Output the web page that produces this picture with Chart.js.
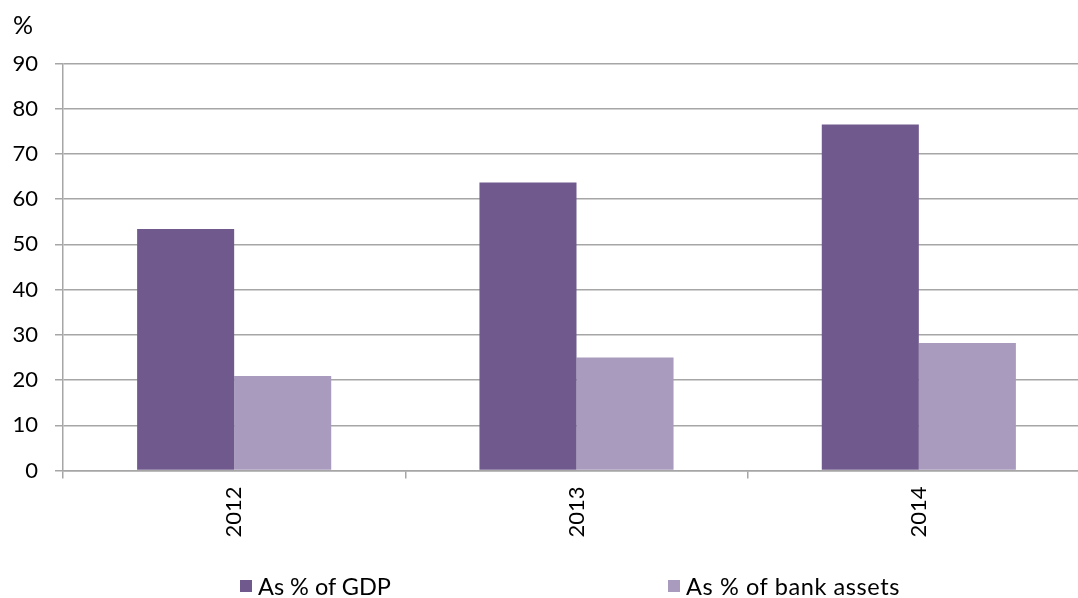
<!DOCTYPE html>
<html>
<head>
<meta charset="utf-8">
<script src="https://cdn.jsdelivr.net/npm/chart.js@4/dist/chart.umd.min.js"></script>
<style>
  html, body { margin: 0; padding: 0; background: #fff; overflow: hidden; width: 1078px; height: 598px; }
  #wrap { position: absolute; left: 0; top: 0; width: 1090px; height: 598px; }
  #unit { position: absolute; left: 13px; top: 9px; font: 25px Lato, sans-serif; color: #000; line-height: 30px; }
  .leg { position: absolute; top: 571px; height: 30px; font: 23.5px Lato, sans-serif; color: #000; display: flex; align-items: center; }
  .leg span.box { display: inline-block; width: 12px; height: 12px; margin-right: 6px; }
</style>
</head>
<body>
<div id="wrap"><canvas id="c" width="1090" height="598"></canvas></div>
<div id="unit">%</div>
<div class="leg" id="leg0" style="left:240px"><span class="box" style="background:#705a8d"></span><span id="lt0"></span></div>
<div class="leg" id="leg1" style="left:668px"><span class="box" style="background:#a99bbe"></span><span id="lt1" style="letter-spacing:0.6px"></span></div>
<script>
const categories = ["2012", "2013", "2014"];
const seriesNames = ["As % of GDP", "As % of bank assets"];
const gdpValues = [53.4, 63.7, 76.5];
const bankAssetValues = [20.9, 25.0, 28.2];
const yTicks = [0, 10, 20, 30, 40, 50, 60, 70, 80, 90];

document.getElementById('lt0').textContent = seriesNames[0];
document.getElementById('lt1').textContent = seriesNames[1];

const gridColor = '#a6a6a6';
new Chart(document.getElementById('c'), {
  type: 'bar',
  data: {
    labels: categories,
    datasets: [
      { label: seriesNames[0], data: gdpValues, backgroundColor: '#705a8d', barPercentage: 1, categoryPercentage: 0.567 },
      { label: seriesNames[1], data: bankAssetValues, backgroundColor: '#a99bbe', barPercentage: 1, categoryPercentage: 0.567 }
    ]
  },
  options: {
    responsive: false,
    animation: false,
    devicePixelRatio: 1,
    layout: { padding: { top: 63.5, right: 0, bottom: 0, left: 0 } },
    plugins: { legend: { display: false }, tooltip: { enabled: false } },
    scales: {
      x: {
        grid: { offset: true, drawOnChartArea: false, drawTicks: true, tickLength: 8, color: gridColor, lineWidth: 1.5 },
        border: { color: gridColor, width: 1.5 },
        ticks: { maxRotation: 90, minRotation: 90, color: '#000', font: { family: 'Lato', size: 22 }, padding: 8 },
        afterFit: s => { s.height = 127.5; }
      },
      y: {
        min: 0, max: 90,
        afterBuildTicks: s => { s.ticks = yTicks.map(v => ({ value: v })); },
        grid: { color: gridColor, lineWidth: 1.5, tickLength: 8 },
        border: { color: gridColor, width: 1.5 },
        ticks: { color: '#000', font: { family: 'Lato', size: 22 }, padding: 17 },
        afterFit: s => { s.width = 63; }
      }
    }
  }
});
</script>
</body>
</html>
